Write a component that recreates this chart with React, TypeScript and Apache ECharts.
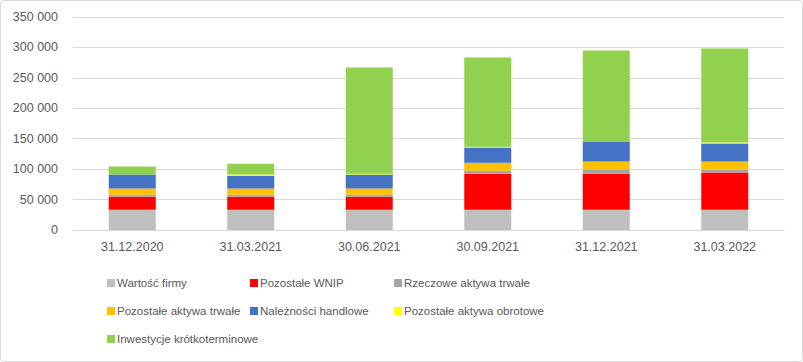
import React, { useEffect, useRef } from "react";
import * as echarts from "echarts";

const categories = ["31.12.2020", "31.03.2021", "30.06.2021", "30.09.2021", "31.12.2021", "31.03.2022"];
const seriesNames = [
  "Wartość firmy",
  "Pozostałe WNIP",
  "Rzeczowe aktywa trwałe",
  "Pozostałe aktywa trwałe",
  "Należności handlowe",
  "Pozostałe aktywa obrotowe",
  "Inwestycje krótkoterminowe",
];
const wartoscFirmy = [33400, 33400, 33400, 33400, 33400, 33400];
const pozostaleWNIP = [21400, 21400, 21400, 59200, 59200, 60900];
const rzeczoweAktywa = [3300, 3200, 3200, 4900, 6600, 4900];
const pozostaleAktywaTrwale = [10000, 10000, 10000, 13200, 13200, 13200];
const naleznosci = [23000, 21300, 23000, 24700, 32900, 29600];
const pozostaleObrotowe = [300, 1800, 1600, 1600, 300, 1600];
const inwestycje = [13000, 17800, 174400, 146400, 149400, 154700];
const yTicks = [0, 50000, 100000, 150000, 200000, 250000, 300000, 350000];

const colors = ["#BFBFBF", "#FF0000", "#A5A5A5", "#FFC000", "#4472C4", "#FFFF00", "#92D050"];
const values = [wartoscFirmy, pozostaleWNIP, rzeczoweAktywa, pozostaleAktywaTrwale, naleznosci, pozostaleObrotowe, inwestycje];

const FONT = "Liberation Sans";

export default function App() {
  const ref = useRef<HTMLDivElement>(null);
  useEffect(() => {
    if (!ref.current) return;
    const chart = echarts.init(ref.current, null, { renderer: "svg" });
    const legendPos = [
      [107, 277], [250, 277], [394, 277],
      [107, 305], [250, 305], [394, 305],
      [107, 333],
    ];
    const legends = seriesNames.map((n, i) => ({
      data: [n],
      left: legendPos[i][0],
      top: legendPos[i][1],
      itemWidth: 8,
      itemHeight: 8,
      itemGap: 0,
      padding: 0,
      icon: "rect",
      selectedMode: false,
      textStyle: { fontFamily: FONT, fontSize: 11.5, color: "#595959", padding: [0, 0, 0, -3] },
    }));
    chart.setOption({
      animation: false,
      backgroundColor: "#FFFFFF",
      grid: { left: 73, right: 19, top: 17, bottom: 132, containLabel: false },
      legend: legends,
      xAxis: {
        type: "category",
        data: categories,
        axisLine: { lineStyle: { color: "#D9D9D9", width: 1 } },
        axisTick: { show: false },
        axisLabel: { fontFamily: FONT, fontSize: 12.5, color: "#595959", margin: 10 },
      },
      yAxis: {
        type: "value",
        min: yTicks[0],
        max: yTicks[yTicks.length - 1],
        interval: 50000,
        axisLine: { show: false },
        axisTick: { show: false },
        splitLine: { lineStyle: { color: "#D9D9D9", width: 1 } },
        axisLabel: {
          fontFamily: FONT,
          fontSize: 12.5,
          color: "#595959",
          margin: 15,
          formatter: (v: number) => String(v).replace(/\B(?=(\d{3})+(?!\d))/g, " "),
        },
      },
      series: seriesNames.map((n, i) => ({
        name: n,
        type: "bar",
        stack: "total",
        barWidth: 47,
        data: values[i],
        itemStyle: { color: colors[i] },
      })),
      graphic: [
        {
          type: "rect",
          shape: { x: 0.5, y: 0.5, width: 802, height: 361, r: 3 },
          style: { fill: "none", stroke: "#D9D9D9", lineWidth: 1 },
          silent: true,
        },
      ],
    });
    return () => chart.dispose();
  }, []);
  return (
    <div
      ref={ref}
      style={{ position: "fixed", left: 0, top: 0, width: 803, height: 362 }}
    />
  );
}
